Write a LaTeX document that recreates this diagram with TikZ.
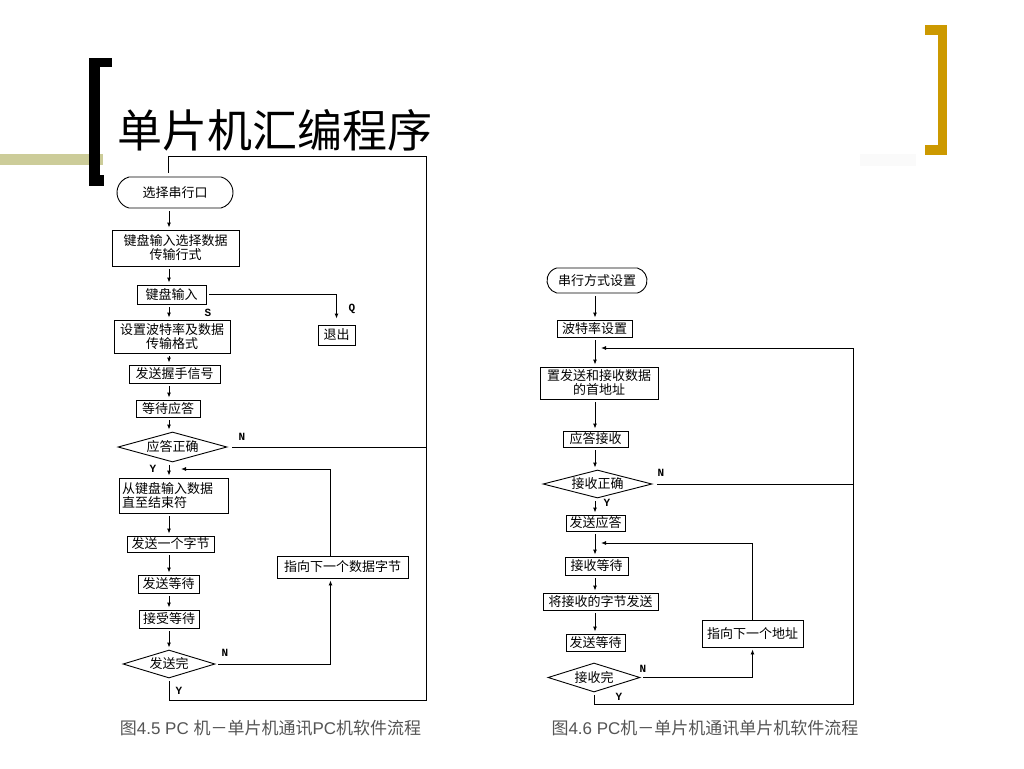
\documentclass[tikz,border=0pt]{standalone}
\usepackage{fontspec}
\setmainfont{Liberation Sans}
\newfontfamily\cjk{Noto Sans CJK SC}
\newfontfamily\labfont{Liberation Mono}
\usepackage{tikz}
\usetikzlibrary{arrows.meta,shapes.geometric,shapes.misc}
\definecolor{barolive}{RGB}{204,204,153}
\definecolor{bargold}{RGB}{204,153,0}
\definecolor{capgray}{RGB}{85,85,85}

\begin{document}
\begin{tikzpicture}[x=1pt,y=-1pt,line width=0.9pt,
  sz/.style 2 args={minimum width=#1pt,minimum height=#2pt},
  box/.style={draw,rectangle,inner sep=0pt,align=center,font=\cjk\fontsize{13}{14}\selectfont},
  term/.style={draw,rounded rectangle,rounded rectangle arc length=150,inner sep=0pt,font=\cjk\fontsize{13}{14}\selectfont},
  dec/.style={draw,diamond,aspect=4,inner sep=0pt,font=\cjk\fontsize{13}{14}\selectfont},
  lab/.style={inner sep=0pt,font=\labfont\bfseries\fontsize{11}{11}\selectfont},
  capt/.style={inner sep=0pt,text=capgray,font=\fontsize{17}{17}\selectfont},
  arr/.style={-{Latex[length=5pt,width=4pt]},shorten <=3pt,shorten >=2pt}]
\useasboundingbox (0,0) rectangle (1024,768);
\fill[white] (0,0) rectangle (1024,768);

% slide decoration
\fill[barolive] (0,154) rectangle (103,165);
\fill[black!2] (860,154) rectangle (916,166);
\fill[black] (89,58) rectangle (100,186);
\fill[black] (89,58) rectangle (112,67);
\fill[black] (89,175) rectangle (104,186);
\fill[bargold] (938,25) rectangle (947,155);
\fill[bargold] (925,25) rectangle (947,35);
\fill[bargold] (925,145) rectangle (947,155);
\node[inner sep=0pt,font=\cjk\fontsize{45}{45}\selectfont] (title) at (275,130) {单片机汇编程序};

% left chart
\coordinate (colL) at (169,0);
\coordinate (cornerL) at (426,700);
\coordinate (topL) at (168,156);
\coordinate (jL) at (179,469);
\node[term,sz={116}{31}] (L1) at (175,192.5) {选择串行口};
\node[box,sz={127}{36}] (L2) at (175.5,248) {键盘输入选择数据\\传输行式};
\node[box,sz={69}{19}] (L3) at (171.5,294.5) {键盘输入};
\node[box,sz={37}{20}] (L4) at (336.5,335) {退出};
\node[box,sz={116}{33}] (L5) at (172,336.5) {设置波特率及数据\\传输格式};
\node[box,sz={91}{18}] (L6) at (174.5,374) {发送握手信号};
\node[box,sz={64}{17}] (L7) at (168,408.5) {等待应答};
\node[dec,sz={109}{30}] (L8) at (172.5,447) {应答正确};
\node[box,sz={109}{35},align=left,text width=103pt] (L9) at (173.5,495.5) {从键盘输入数据\\直至结束符};
\node[box,sz={87}{16}] (L10) at (170.5,544) {发送一个字节};
\node[box,sz={61}{18}] (L11) at (168.5,584) {发送等待};
\node[box,sz={60}{18}] (L12) at (169,619) {接受等待};
\node[dec,sz={92}{28}] (L13) at (169,664) {发送完};
\node[box,sz={131}{22}] (L14) at (342.5,567) {指向下一个数据字节};
\node[lab] (lS) at (208,313) {S};
\node[lab] (lQ) at (352,309) {Q};
\node[lab] (lN1) at (242,437) {N};
\node[lab] (lY1) at (153,469) {Y};
\node[lab] (lN2) at (225,653) {N};
\node[lab] (lY2) at (179,691) {Y};
\foreach \a/\b in {L1/L2,L2/L3,L3/L5,L5/L6,L6/L7,L7/L8,L8/L9,L9/L10,L10/L11,L11/L12,L12/L13}
  \draw[arr] (\a.south -| colL) -- (\b.north -| colL);
\draw[arr,shorten >=6pt] (L3.east) -| (L4.north);
\draw[arr] (L13.east) -| ([xshift=-12pt]L14.south);
\draw[arr,shorten <=0pt] ([xshift=-12pt]L14.north) |- (jL);
\draw[shorten <=5pt] (L8.east) -- (L8.east -| cornerL);
\draw[shorten <=3pt,shorten >=4pt] (L13.south) |- (cornerL) |- (topL) -- (L1.north -| topL);
\node[capt] (capL) at (270.5,728) {{\cjk 图}4.5 PC {\cjk 机－单片机通讯}PC{\cjk 机软件流程}};

% right chart
\coordinate (colR) at (595,0);
\coordinate (cornerR) at (853,704);
\coordinate (jR1) at (599,348);
\coordinate (jR2) at (599,543);
\node[term,sz={100}{25}] (R1) at (597,280.5) {串行方式设置};
\node[box,sz={75}{17}] (R2) at (594.5,328.5) {波特率设置};
\node[box,sz={118}{32}] (R3) at (599,383) {置发送和接收数据\\的首地址};
\node[box,sz={65}{16}] (R4) at (595.5,439) {应答接收};
\node[dec,sz={109}{28}] (R5) at (597.5,484) {接收正确};
\node[box,sz={59}{16}] (R6) at (595.5,523) {发送应答};
\node[box,sz={63}{18}] (R7) at (596.5,566) {接收等待};
\node[box,sz={115}{17}] (R8) at (600.5,601.5) {将接收的字节发送};
\node[box,sz={59}{17}] (R9) at (595.5,642.5) {发送等待};
\node[dec,sz={92}{29}] (R10) at (594,677.5) {接收完};
\node[box,sz={101}{27}] (R11) at (752.5,633.5) {指向下一个地址};
\node[lab] (rN1) at (661,473) {N};
\node[lab] (rY1) at (607,503) {Y};
\node[lab] (rN2) at (643,669) {N};
\node[lab] (rY2) at (619,697) {Y};
\foreach \a/\b in {R1/R2,R2/R3,R3/R4,R4/R5,R5/R6,R6/R7,R7/R8,R8/R9}
  \draw[arr] (\a.south -| colR) -- (\b.north -| colR);
\draw[arr] (R10.east) -| (R11.south);
\draw[arr,shorten <=0pt] (R11.north) |- (jR2);
\draw[shorten <=5pt] (R5.east) -- (R5.east -| cornerR);
\draw[arr] (R10.south) |- (cornerR) |- (jR1);
\node[capt] (capR) at (705,728) {{\cjk 图}4.6 PC{\cjk 机－单片机通讯单片机软件流程}};
\end{tikzpicture}
\end{document}
